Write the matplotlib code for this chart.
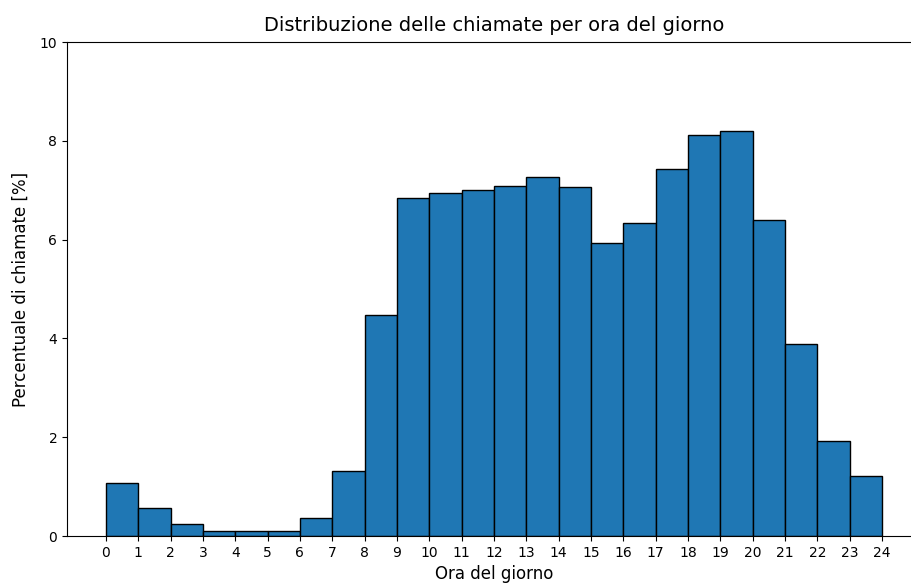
import matplotlib
matplotlib.use("Agg")
import matplotlib.pyplot as plt
import numpy as np

# Percentuale di chiamate per ciascuna ora (bin orari 0-24)
hours = np.arange(24)
call_pct = [1.07, 0.57, 0.24, 0.10, 0.10, 0.10, 0.36, 1.32, 4.47, 6.84,
            6.94, 7.00, 7.09, 7.27, 7.06, 5.93, 6.34, 7.43, 8.12, 8.20,
            6.40, 3.89, 1.92, 1.21]
hour_ticks = np.arange(25)

fig = plt.figure(figsize=(9.11, 5.84), dpi=100)
ax = fig.add_axes([67 / 911, 48 / 584, 854 / 911, 494 / 584])

ax.bar(hours, call_pct, width=1.0, align="edge",
       color="#1f77b4", edgecolor="black", linewidth=1.0)

ax.set_xlim(-1.2, 25.2)
ax.set_ylim(0, 10)
ax.set_xticks(hour_ticks)
ax.set_yticks([0, 2, 4, 6, 8, 10])

ax.set_title("Distribuzione delle chiamate per ora del giorno", fontsize=14, pad=8)
ax.set_xlabel("Ora del giorno", fontsize=12, labelpad=4)
ax.set_ylabel("Percentuale di chiamate [%]", fontsize=12, labelpad=7)

fig.savefig("out.png", dpi=100)
